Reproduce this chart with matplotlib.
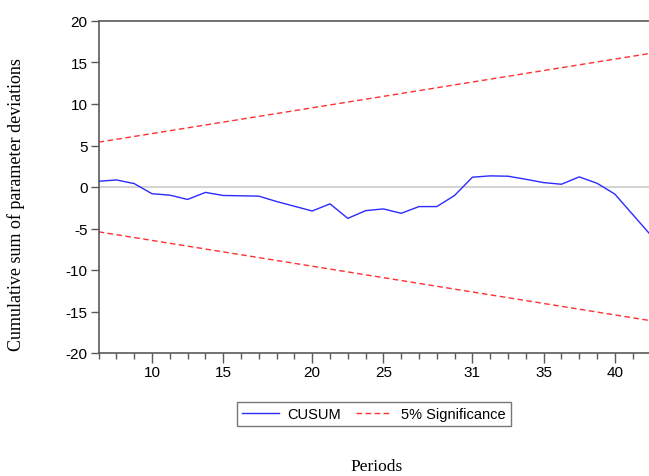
import matplotlib
matplotlib.use("Agg")
import matplotlib.pyplot as plt
import numpy as np

cusum = [0.69, 0.85, 0.41, -0.81, -0.98, -1.50, -0.65, -1.02, -1.06, -1.10,
         -1.75, -2.32, -2.89, -2.03, -3.78, -2.85, -2.64, -3.17, -2.36, -2.36,
         -1.02, 1.18, 1.34, 1.30, 0.93, 0.53, 0.33, 1.22, 0.45, -0.85,
         -3.30, -5.75]

# 5% significance bounds: straight lines, values at first and last observation
bound_x = [0, 31]
upper = [5.4, 16.1]
lower = [-5.4, -16.1]

tick_pos = [3, 7, 12, 16, 21, 25, 29]
tick_labels = ['10', '15', '20', '25', '31', '35', '40']
y_ticks = [-20, -15, -10, -5, 0, 5, 10, 15, 20]

W, H = 649, 477
fig = plt.figure(figsize=(W / 100, H / 100), dpi=100)
ax = fig.add_axes([98.6 / W, 1 - 354 / H, (650.4 - 98.6) / W, (354 - 22) / H])

spine_col = '#5a5a5a'
ax.axhline(0, color='#d4d4d4', lw=1.5, zorder=1)
ax.plot(range(len(cusum)), cusum, color='#2b2bff', lw=1.0, label='CUSUM', zorder=3)
ax.plot(bound_x, upper, color='#ff3030', lw=1.0, ls=(0, (4, 2.5)),
        label='5% Significance', zorder=2)
ax.plot(bound_x, lower, color='#ff3030', lw=1.0, ls=(0, (4, 2.5)), zorder=2)

ax.set_xlim(0, 31)
ax.set_ylim(-20, 20)
ax.set_xticks(tick_pos)
ax.set_xticklabels(tick_labels)
ax.set_xticks(range(0, 32), minor=True)
ax.set_yticks(y_ticks)
ax.set_yticklabels([str(v) for v in y_ticks])

for s in ax.spines.values():
    s.set_color(spine_col)
    s.set_linewidth(1.2)

ax.tick_params(axis='x', which='major', direction='out', length=7, width=1,
               color=spine_col, labelsize=11, pad=2)
ax.tick_params(axis='x', which='minor', direction='out', length=4, width=1,
               color=spine_col)
ax.tick_params(axis='y', which='major', direction='out', length=6, width=1,
               color=spine_col, labelsize=11, pad=2)
for lab in ax.get_xticklabels() + ax.get_yticklabels():
    lab.set_fontfamily('Liberation Sans')

leg = fig.legend(loc='center', bbox_to_anchor=(373.8 / W, 1 - 415 / H), ncol=2,
                 frameon=True, fancybox=False, prop={'family': 'Liberation Sans', 'size': 10.5},
                 handlelength=2.5, columnspacing=1.0, handletextpad=0.6,
                 borderpad=0.35)
leg.get_frame().set_edgecolor('#555555')
leg.get_frame().set_linewidth(1.0)

fig.text(16 / W, 1 - 205 / H, 'Cumulative sum of parameter deviations', rotation=90,
         ha='center', va='center', fontfamily='Liberation Serif', fontsize=13)
fig.text(377 / W, 1 - 467 / H, 'Periods', ha='center', va='center',
         fontfamily='Liberation Serif', fontsize=12.5)

fig.savefig('out.png', dpi=100)
